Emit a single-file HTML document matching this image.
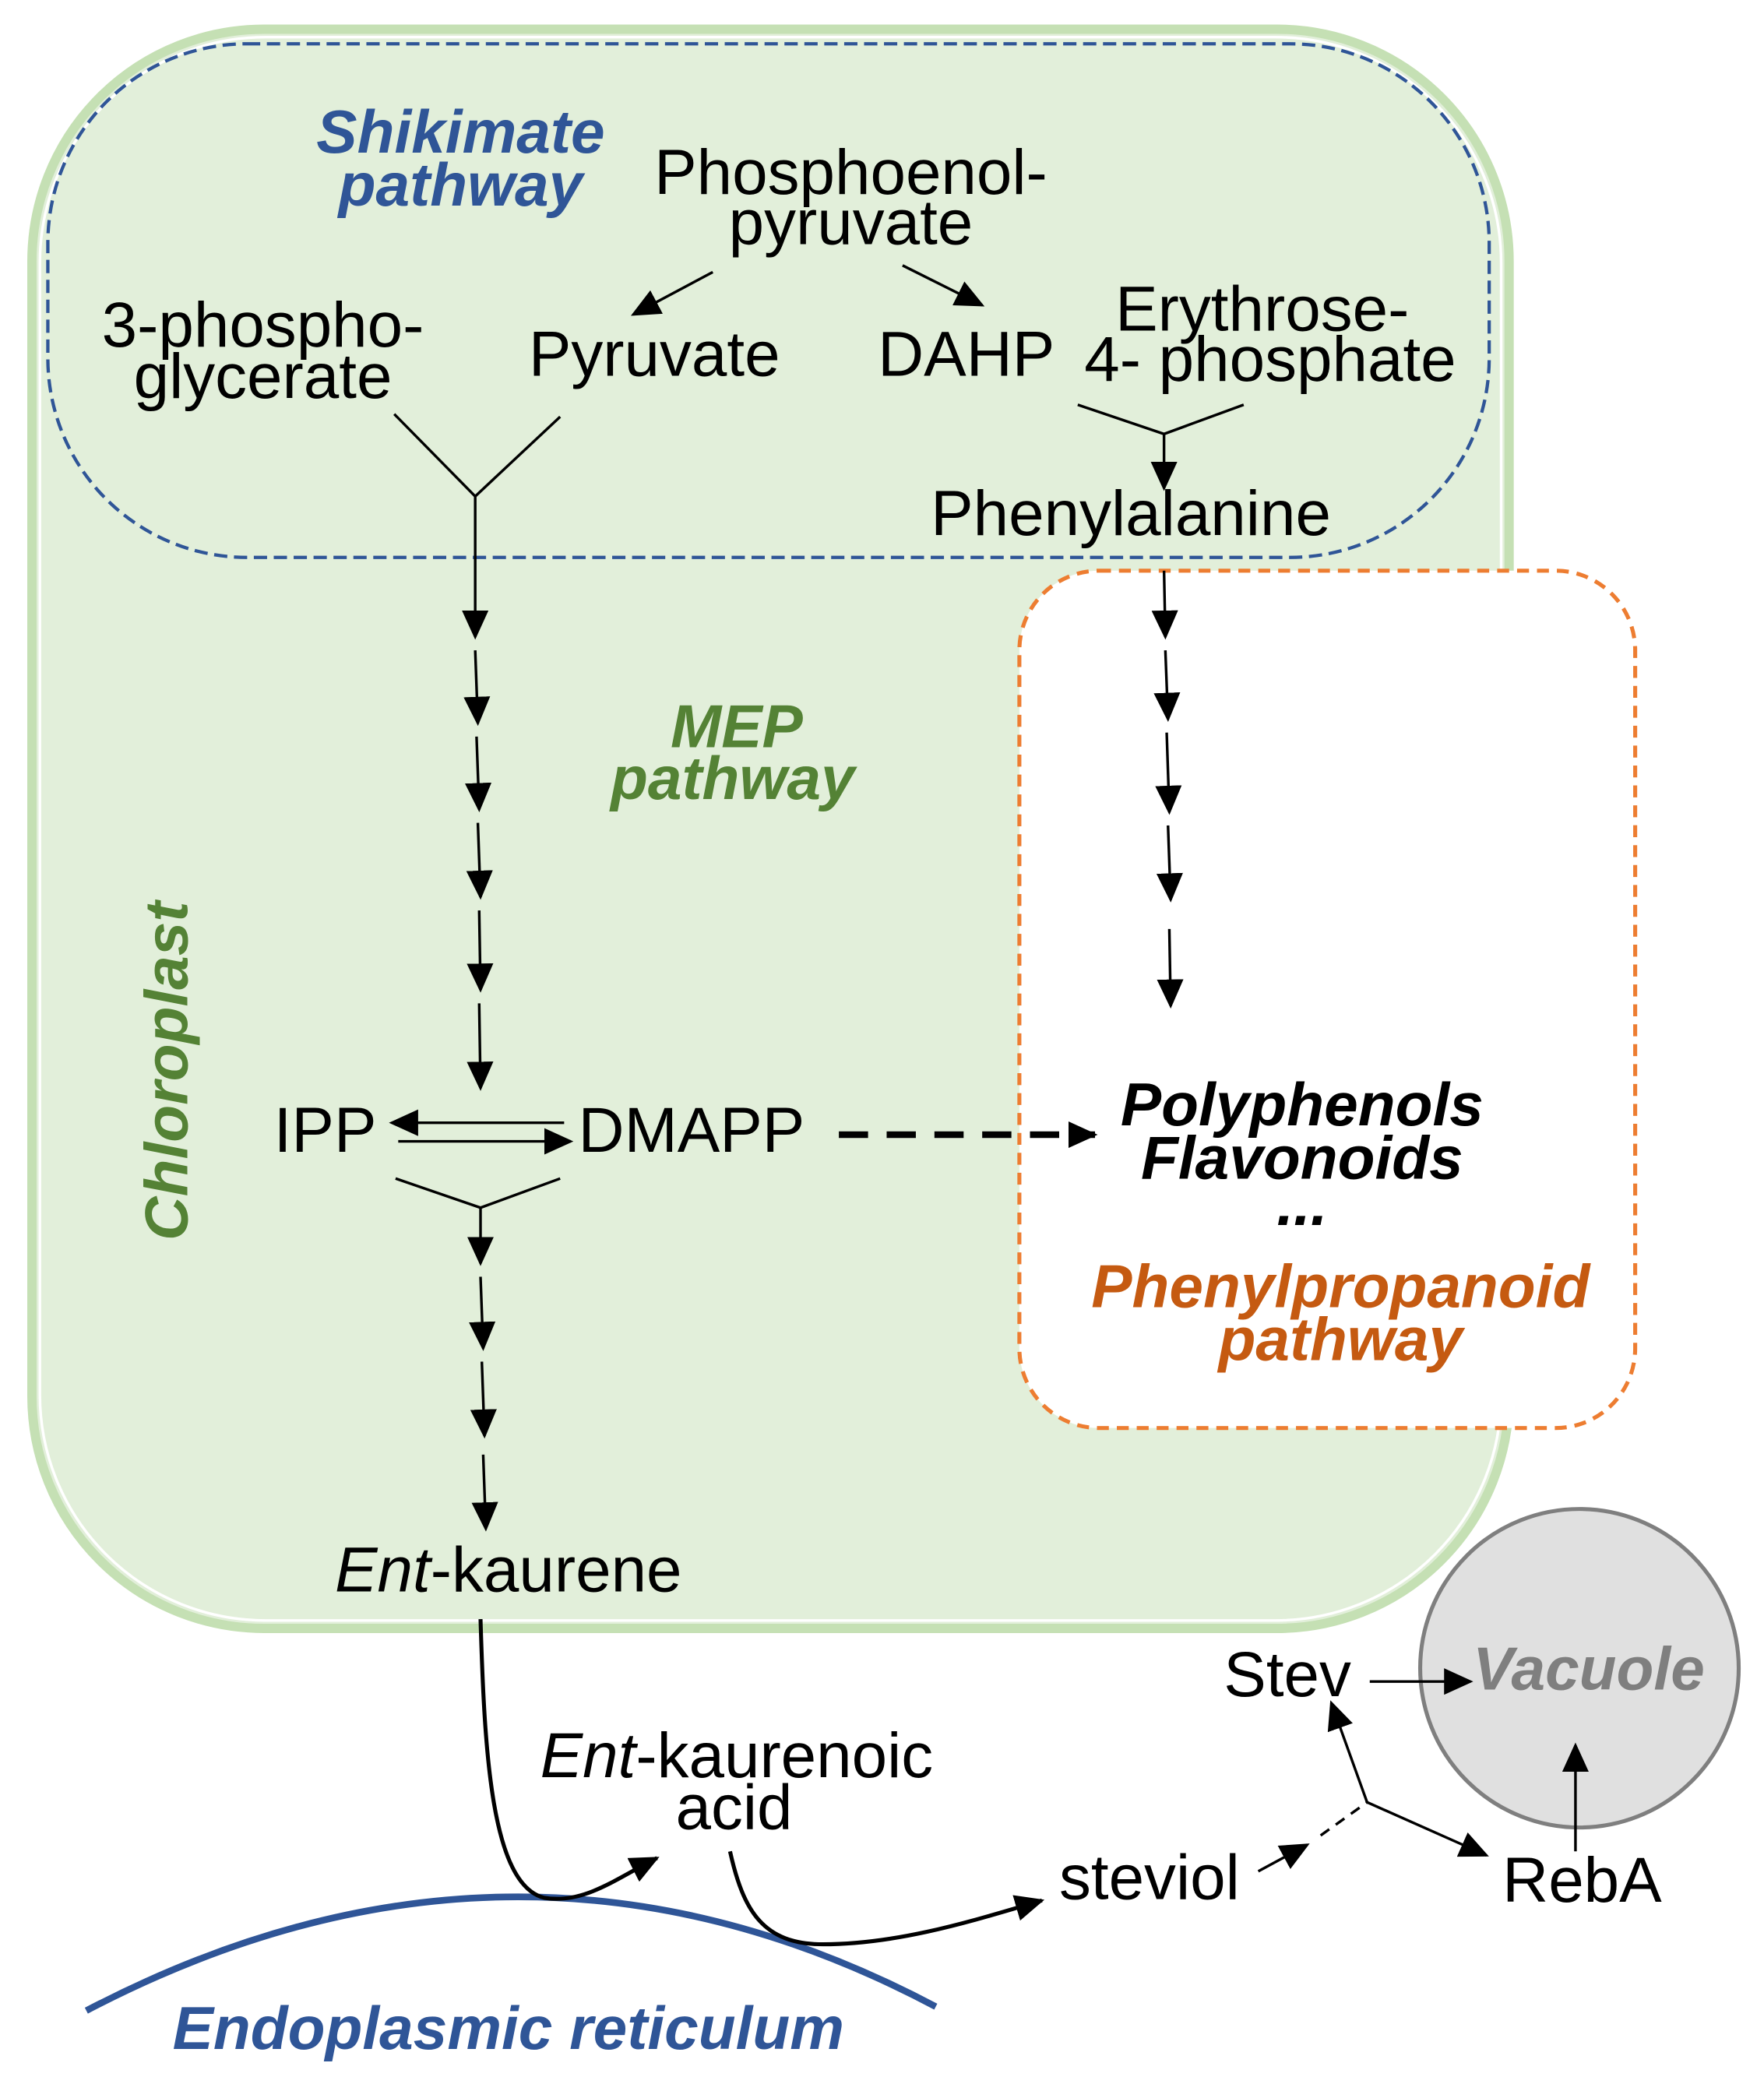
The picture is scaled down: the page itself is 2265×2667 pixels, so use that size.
<!DOCTYPE html>
<html><head><meta charset="utf-8"><style>
html,body{margin:0;padding:0;background:#fff}
svg{display:block}
text{font-family:"Liberation Sans",sans-serif}
</style></head><body>
<svg width="2265" height="2667" viewBox="0 0 1329 1565" xmlns="http://www.w3.org/2000/svg">
<defs>
<marker id="b" markerWidth="22" markerHeight="20" refX="20" refY="10" orient="auto" markerUnits="userSpaceOnUse" viewBox="0 0 22 20">
<path d="M0,0 L22,10 L0,20 z" fill="#000"/></marker>
</defs>
<rect x="24" y="22" width="1113" height="1205" rx="175" fill="#e2efda" stroke="#c5e0b4" stroke-width="7"/>
<rect x="30" y="28" width="1101" height="1193" rx="170" fill="none" stroke="#fff" stroke-width="2"/>
<rect x="36" y="33" width="1086" height="387" rx="150" fill="none" stroke="#2f5597" stroke-width="2.5" stroke-dasharray="10,5"/>
<rect x="768" y="430" width="464" height="646" rx="60" fill="#fff" stroke="#ed7d31" stroke-width="3" stroke-dasharray="9,6"/>
<circle cx="1190" cy="1257" r="120" fill="#e0e0e0" stroke="#7f7f7f" stroke-width="3"/>
<path d="M65,1515 Q390,1345 705,1512" fill="none" stroke="#2f5597" stroke-width="5"/>

<g fill="#000" font-size="48" text-anchor="middle">
<text x="641" y="146">Phosphoenol-</text>
<text x="641" y="184">pyruvate</text>
<text x="198" y="261">3-phospho-</text>
<text x="198" y="300">glycerate</text>
<text x="493" y="283">Pyruvate</text>
<text x="728" y="283">DAHP</text>
<text x="951" y="249">Erythrose-</text>
<text x="957" y="287">4- phosphate</text>
<text x="852" y="403">Phenylalanine</text>
<text x="245" y="868">IPP</text>
<text x="521" y="868">DMAPP</text>
<text x="383" y="1199"><tspan font-style="italic">Ent</tspan>-kaurene</text>
<text x="555" y="1339"><tspan font-style="italic">Ent</tspan>-kaurenoic</text>
<text x="553" y="1378">acid</text>
<text x="866" y="1431">steviol</text>
<text x="970" y="1278">Stev</text>
<text x="1192" y="1433">RebA</text>
</g>
<g font-weight="bold" font-style="italic" font-size="46" text-anchor="middle">
<text x="347" y="115" fill="#2f5597">Shikimate</text>
<text x="347" y="155" fill="#2f5597">pathway</text>
<text x="555" y="563" fill="#548235">MEP</text>
<text x="552" y="602" fill="#548235">pathway</text>
<text transform="translate(141,807) rotate(-90)" fill="#548235">Chloroplast</text>
<text x="981" y="848" fill="#000">Polyphenols</text>
<text x="981" y="888" fill="#000">Flavonoids</text>
<text x="981" y="923" fill="#000">...</text>
<text x="1010" y="985" fill="#c55a11">Phenylpropanoid</text>
<text x="1010" y="1025" fill="#c55a11">pathway</text>
<text x="1197" y="1273" fill="#7f7f7f">Vacuole</text>
<text x="383" y="1544" fill="#2f5597">Endoplasmic reticulum</text>
</g>

<g stroke="#000" stroke-width="2" fill="none">
<line x1="537" y1="205" x2="477" y2="237" marker-end="url(#b)"/>
<line x1="680" y1="200" x2="740" y2="230" marker-end="url(#b)"/>
<polyline points="297,312 358,374 422,314"/>
<line x1="358" y1="374" x2="358" y2="480" marker-end="url(#b)"/>
<line x1="358" y1="490" x2="360" y2="545" marker-end="url(#b)"/>
<line x1="359" y1="555" x2="361" y2="610" marker-end="url(#b)"/>
<line x1="360" y1="620" x2="362" y2="676" marker-end="url(#b)"/>
<line x1="361" y1="686" x2="362" y2="746" marker-end="url(#b)"/>
<line x1="361" y1="756" x2="362" y2="820" marker-end="url(#b)"/>
<polyline points="812,305 877,327 937,305"/>
<line x1="877" y1="327" x2="877" y2="368" marker-end="url(#b)"/>
<line x1="877" y1="430" x2="878" y2="480" marker-end="url(#b)"/>
<line x1="878" y1="490" x2="880" y2="542" marker-end="url(#b)"/>
<line x1="879" y1="552" x2="881" y2="612" marker-end="url(#b)"/>
<line x1="880" y1="622" x2="882" y2="678" marker-end="url(#b)"/>
<line x1="881" y1="700" x2="882" y2="758" marker-end="url(#b)"/>
<line x1="425" y1="846" x2="295" y2="846" marker-end="url(#b)"/>
<line x1="300" y1="860" x2="430" y2="860" marker-end="url(#b)"/>
<polyline points="298,888 362,910 422,888"/>
<line x1="362" y1="910" x2="362" y2="952" marker-end="url(#b)"/>
<line x1="362" y1="962" x2="364" y2="1016" marker-end="url(#b)"/>
<line x1="363" y1="1026" x2="365" y2="1082" marker-end="url(#b)"/>
<line x1="364" y1="1096" x2="366" y2="1152" marker-end="url(#b)"/>
<line x1="632" y1="855" x2="825" y2="855" stroke-width="5" stroke-dasharray="22,14" marker-end="url(#b)"/>
<path d="M362,1220 C365,1320 370,1420 410,1430 C440,1435 465,1415 495,1400" stroke-width="3" marker-end="url(#b)"/>
<path d="M550,1395 C560,1440 575,1465 620,1465 C680,1465 740,1445 785,1432" stroke-width="3" marker-end="url(#b)"/>
<line x1="948" y1="1410" x2="985" y2="1390" marker-end="url(#b)"/>
<line x1="995" y1="1383" x2="1030" y2="1358" stroke-dasharray="8,6"/>
<line x1="1030" y1="1358" x2="1003" y2="1283" marker-end="url(#b)"/>
<line x1="1030" y1="1358" x2="1120" y2="1398" marker-end="url(#b)"/>
<line x1="1032" y1="1267" x2="1108" y2="1267" marker-end="url(#b)"/>
<line x1="1187" y1="1395" x2="1187" y2="1315" marker-end="url(#b)"/>
</g>
</svg>
</body></html>
